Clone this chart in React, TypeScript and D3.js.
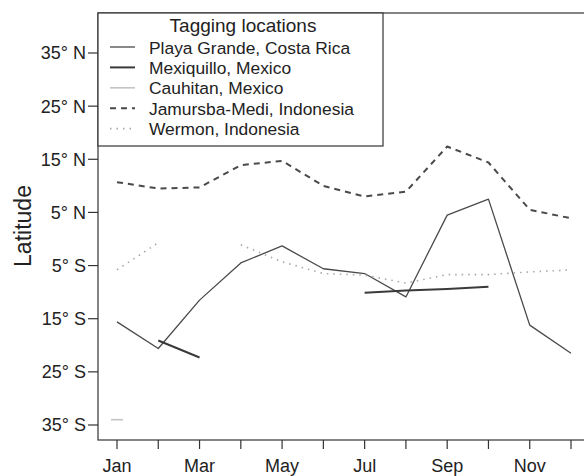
import * as d3 from 'd3';

const months = ['Jan', 'Feb', 'Mar', 'Apr', 'May', 'Jun', 'Jul', 'Aug', 'Sep', 'Oct', 'Nov', 'Dec'];
const latTicks = [35, 25, 15, 5, -5, -15, -25, -35];

// latitude per month, null = no data
const playaGrande = [-15.6, -20.6, -11.5, -4.5, -1.3, -5.6, -6.5, -10.9, 4.5, 7.5, -16.2, -21.5];
const mexiquillo = [null, -19.1, -22.3, null, null, null, -10.1, -9.7, -9.4, -9.0, null, null];
const cauhitan = [-34, null, null, null, null, null, null, null, null, null, null, null];
const jamursba = [10.7, 9.5, 9.7, 13.9, 14.7, 10.0, 8.0, 8.9, 17.4, 14.4, 5.5, 3.9];
const wermon = [-5.8, -0.7, null, -1.1, -4.3, -6.5, -6.8, -8.3, -6.7, -6.7, -6.2, -5.8];

const series = [
  { name: 'Playa Grande, Costa Rica', values: playaGrande, color: '#4a4a4a', width: 1.3, dash: 'none' },
  { name: 'Mexiquillo, Mexico', values: mexiquillo, color: '#3a3a3a', width: 2, dash: 'none' },
  { name: 'Cauhitan, Mexico', values: cauhitan, color: '#c4c4c4', width: 1.6, dash: 'none' },
  { name: 'Jamursba-Medi, Indonesia', values: jamursba, color: '#4a4a4a', width: 2, dash: '6,5' },
  { name: 'Wermon, Indonesia', values: wermon, color: '#a8a8a8', width: 1.6, dash: '1.5,5' },
];

const W = 584;
const H = 476;
const FONT = 'Liberation Sans, Arial, Helvetica, sans-serif';

export default function App() {
  const x = d3.scaleLinear().domain([1, 12]).range([117, 571]);
  const y = d3.scaleLinear().domain([-35, 35]).range([425, 53]);
  const left = 98;
  const right = 589;
  const top = 13;
  const bottom = 440;

  const line = d3
    .line<number | null>()
    .defined((d) => d !== null)
    .x((_, i) => x(i + 1))
    .y((d) => y(d as number));

  const legendX = left;
  const legendW = 285;
  const legendH = 133;

  return (
    <svg
      width={W}
      height={H}
      style={{ position: 'absolute', left: 0, top: 0, background: '#fff' }}
      fontFamily={FONT}
    >
      <rect width={W} height={H} fill="#fff" />

      {/* series */}
      {series.map((s) => (
        <g key={s.name}>
          <path
            d={line(s.values) ?? ''}
            fill="none"
            stroke={s.color}
            strokeWidth={s.width}
            strokeDasharray={s.dash}
            strokeLinejoin="round"
          />
          {/* isolated points get a short dash */}
          {s.values.map((v, i) =>
            v !== null && (i === 0 || s.values[i - 1] === null) && (i === 11 || s.values[i + 1] === null) ? (
              <line
                key={i}
                x1={x(i + 1) - 6}
                x2={x(i + 1) + 6}
                y1={y(v)}
                y2={y(v)}
                stroke={s.color}
                strokeWidth={s.width}
              />
            ) : null,
          )}
        </g>
      ))}

      {/* box */}
      <rect
        x={left}
        y={top}
        width={right - left}
        height={bottom - top}
        fill="none"
        stroke="#333"
        strokeWidth={1.2}
      />

      {/* x axis */}
      {months.map((m, i) => (
        <g key={m} transform={`translate(${x(i + 1)},${bottom})`}>
          <line y2={9} stroke="#333" strokeWidth={1.2} />
          {i % 2 === 0 && (
            <text y={32} textAnchor="middle" fontSize={18} fill="#222">
              {m}
            </text>
          )}
        </g>
      ))}

      {/* y axis */}
      {latTicks.map((v) => (
        <g key={v} transform={`translate(${left},${y(v)})`}>
          <line x2={-10} stroke="#333" strokeWidth={1.2} />
          <text x={-12} dy="0.36em" textAnchor="end" fontSize={18} fill="#222">
            {`${Math.abs(v)}° ${v > 0 ? 'N' : 'S'}`}
          </text>
        </g>
      ))}
      <text
        transform={`translate(31,226) rotate(-90)`}
        textAnchor="middle"
        fontSize={23}
        fill="#222"
      >
        Latitude
      </text>

      {/* legend */}
      <rect
        x={legendX}
        y={top}
        width={legendW}
        height={legendH}
        fill="#fff"
        stroke="#333"
        strokeWidth={1.2}
      />
      <text x={legendX + 145} y={top + 19} textAnchor="middle" fontSize={19} fill="#222">
        Tagging locations
      </text>
      {series.map((s, i) => {
        const ly = top + 34 + i * 20.4;
        return (
          <g key={s.name}>
            <line
              x1={legendX + 12}
              x2={legendX + 37}
              y1={ly}
              y2={ly}
              stroke={s.color}
              strokeWidth={s.width}
              strokeDasharray={s.dash}
            />
            <text x={legendX + 51} y={ly + 6.5} fontSize={17.4} fill="#222">
              {s.name}
            </text>
          </g>
        );
      })}
    </svg>
  );
}
